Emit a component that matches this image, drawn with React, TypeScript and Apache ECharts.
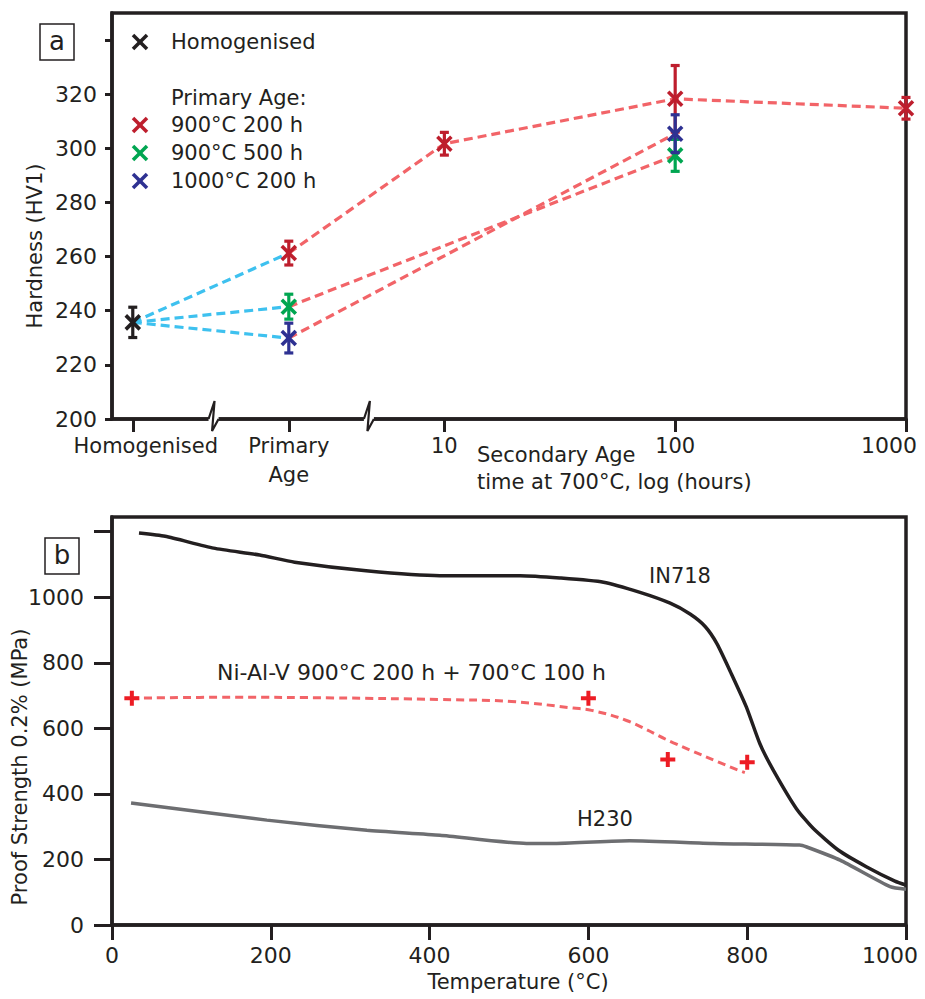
import React, { useEffect, useRef } from 'react';
import * as echarts from 'echarts';

const FONT = 'DejaVu Sans';
const INK = '#231F20';
const RED = '#BE1E2D';
const GREEN = '#00A651';
const BLUE = '#2E3192';
const DASH_RED = '#F26468';
const DASH_BLUE = '#3EC1EF';
const PLUS_RED = '#ED1C24';
const GRAY = '#6D6E71';

// ---------- Panel a : hardness ----------
const stageLabels = ['Homogenised', 'Primary\nAge'];
const stagePos = [-0.35, 0.326]; // axis positions of the two non-log stages
const breakPos = [0, 0.673]; // axis breaks
const secondaryHours = [10, 100, 1000];
const hvTicks = [200, 220, 240, 260, 280, 300, 320, 340];
const hvLabels = [200, 220, 240, 260, 280, 300, 320];

const homHV = [235.7];
const homErr = [5.6];
// 900°C 200 h : primary, 10 h, 100 h, 1000 h
const redHV = [261.3, 301.7, 318.3, 314.8];
const redErr = [4.4, 4.2, 12.3, 4.0];
// 900°C 500 h : primary, 100 h
const greenHV = [241.5, 297.4];
const greenErr = [4.6, 5.9];
// 1000°C 200 h : primary, 100 h
const blueHV = [229.9, 305.4];
const blueErr = [5.5, 7.0];

// ---------- Panel b : proof strength ----------
const tempTicks = [0, 200, 400, 600, 800, 1000];
const strengthTicks = [0, 200, 400, 600, 800, 1000, 1200];
const strengthLabels = [0, 200, 400, 600, 800, 1000];
const in718T = [34, 67, 128, 186, 230, 320, 413, 514, 564, 619, 665, 703, 728, 747, 762, 780, 799, 816, 833, 862, 883, 915, 950, 986, 1000];
const in718MPa = [1196, 1186, 1150, 1129, 1107, 1081, 1066, 1066, 1059, 1046, 1015, 982, 949, 911, 858, 767, 665, 553, 472, 355, 295, 228, 178, 134, 122];
const h230T = [24, 195, 321, 413, 522, 560, 652, 757, 866, 875, 917, 980, 1000];
const h230MPa = [372, 320, 289, 274, 249, 249, 257, 249, 244, 238, 198, 117, 109];
const nialvT = [25, 600, 700, 800];
const nialvMPa = [692, 692, 505, 497];
const nialvFitT = [24, 152, 279, 413, 503, 581, 604, 648, 707, 787, 797];
const nialvFitMPa = [692, 695, 693, 688, 682, 662, 655, 624, 556, 474, 465];

const zip = (a: number[], b: number[]) => a.map((v, i) => [v, b[i]]);

function markerSeries(name: string, color: string, xs: number[], ys: number[], es: number[], z: number) {
  return {
    type: 'custom',
    name,
    xAxisIndex: 0,
    yAxisIndex: 0,
    z,
    clip: false,
    encode: { x: 0, y: 1 },
    data: xs.map((x, i) => [x, ys[i], es[i]]),
    renderItem: (_p: any, api: any) => {
      const x = api.value(0);
      const y = api.value(1);
      const e = api.value(2);
      const c = api.coord([x, y]);
      const t = api.coord([x, y + e]);
      const b = api.coord([x, y - e]);
      const s = 7;
      const cap = 4.5;
      const st = { stroke: color, lineWidth: 3.2, fill: null };
      const sx = { stroke: color, lineWidth: 3.6, fill: null };
      return {
        type: 'group',
        children: [
          { type: 'line', shape: { x1: c[0], y1: t[1], x2: c[0], y2: b[1] }, style: st },
          { type: 'line', shape: { x1: c[0] - cap, y1: t[1], x2: c[0] + cap, y2: t[1] }, style: st },
          { type: 'line', shape: { x1: c[0] - cap, y1: b[1], x2: c[0] + cap, y2: b[1] }, style: st },
          { type: 'line', shape: { x1: c[0] - s, y1: c[1] - s, x2: c[0] + s, y2: c[1] + s }, style: sx },
          { type: 'line', shape: { x1: c[0] - s, y1: c[1] + s, x2: c[0] + s, y2: c[1] - s }, style: sx },
        ],
      };
    },
  };
}

function dashed(data: number[][], color: string, xi: number, width = 3.2, dash: number[] = [9, 5]) {
  return {
    type: 'line',
    xAxisIndex: xi,
    yAxisIndex: xi,
    data,
    symbol: 'none',
    showSymbol: false,
    silent: true,
    z: 2,
    lineStyle: { color, width, type: dash },
  };
}

function crossGraphic(x: number, y: number, color: string) {
  const s = 7;
  const style = { stroke: color, lineWidth: 3.6 };
  return [
    { type: 'line', shape: { x1: x - s, y1: y - s, x2: x + s, y2: y + s }, style },
    { type: 'line', shape: { x1: x - s, y1: y + s, x2: x + s, y2: y - s }, style },
  ];
}

function txt(text: string, x: number, y: number, opts: any = {}) {
  return {
    type: 'text',
    x,
    y,
    rotation: opts.rotation || 0,
    z: 50,
    style: {
      text,
      fill: INK,
      font: `${opts.size || 21}px "${FONT}"`,
      align: opts.align || 'left',
      verticalAlign: 'middle',
    },
  };
}

export default function App() {
  const ref = useRef<HTMLDivElement>(null);

  useEffect(() => {
    document.body.style.margin = '0';
    const el = ref.current!;
    const chart = echarts.init(el, null, { renderer: 'svg' });

    const redX = [stagePos[1], ...secondaryHours.map((h) => Math.log10(h))];
    const greenX = [stagePos[1], Math.log10(secondaryHours[1])];
    const blueX = [stagePos[1], Math.log10(secondaryHours[1])];

    const topXLabelValues = [stagePos[0], stagePos[1], ...secondaryHours.map((h) => Math.log10(h))];
    const topXLabelText = (v: number) => {
      if (Math.abs(v - stagePos[0]) < 1e-6) return '{hom|' + stageLabels[0] + '}';
      if (Math.abs(v - stagePos[1]) < 1e-6) return stageLabels[1];
      const h = Math.round(Math.pow(10, v));
      if (h === 1000) return '{k|' + h + '}';
      return String(h);
    };
    const plain = (v: number) => String(v);
    const tempLabel = (v: number) => (v === 1000 ? '{k|' + v + '}' : String(v));

    const axisLineStyle = { color: INK, width: 3.5 };
    const baseText = { fontFamily: FONT, fontSize: 21, color: INK };
    const tickText = { fontFamily: FONT, fontSize: 22, color: INK };
    const gridBase = {
      left: 112,
      right: 19,
      show: true,
      borderColor: INK,
      borderWidth: 3.5,
      backgroundColor: 'transparent',
      containLabel: false,
      outerBoundsMode: 'none',
    };

    const option: any = {
      animation: false,
      backgroundColor: '#fff',
      grid: [
        { ...gridBase, top: 13, bottom: 580 },
        { ...gridBase, top: 517, bottom: 74 },
      ],
      xAxis: [
        {
          type: 'value',
          gridIndex: 0,
          min: -0.44,
          max: 3,
          splitLine: { show: false },
          axisLine: { onZero: false, lineStyle: axisLineStyle },
          axisTick: { customValues: topXLabelValues, length: 13, lineStyle: { color: INK, width: 3 } },
          axisLabel: {
            ...baseText,
            customValues: topXLabelValues,
            margin: 12,
            lineHeight: 29,
            formatter: topXLabelText,
            rich: {
              hom: { ...baseText, lineHeight: 29, padding: [0, 0, 0, 26] },
              k: { ...tickText, lineHeight: 29, padding: [0, 34, 0, 0] },
            },
          },
        },
        {
          type: 'value',
          gridIndex: 1,
          min: 0,
          max: 1000,
          splitLine: { show: false },
          axisLine: { onZero: false, lineStyle: axisLineStyle },
          axisTick: { customValues: tempTicks, length: 15, lineStyle: { color: INK, width: 3 } },
          axisLabel: {
            ...tickText,
            customValues: tempTicks,
            margin: 19,
            formatter: tempLabel,
            rich: { k: { ...tickText, padding: [0, 32, 0, 0] } },
          },
        },
      ],
      yAxis: [
        {
          type: 'value',
          gridIndex: 0,
          min: 200,
          max: 350,
          splitLine: { show: false },
          axisLine: { show: true, onZero: false, lineStyle: axisLineStyle },
          axisTick: { show: true, customValues: hvTicks, length: 7, lineStyle: { color: INK, width: 3 } },
          axisLabel: { ...tickText, customValues: hvLabels, margin: 15, formatter: plain },
        },
        {
          type: 'value',
          gridIndex: 1,
          min: 0,
          max: 1245,
          splitLine: { show: false },
          axisLine: { show: true, onZero: false, lineStyle: axisLineStyle },
          axisTick: { show: true, customValues: strengthTicks, length: 18, lineStyle: { color: INK, width: 3 } },
          axisLabel: { ...tickText, customValues: strengthLabels, margin: 28, formatter: plain },
        },
      ],
      series: [
        // homogenised -> primary (blue dashes)
        dashed([[stagePos[0], homHV[0]], [stagePos[1], redHV[0]]], DASH_BLUE, 0),
        dashed([[stagePos[0], homHV[0]], [stagePos[1], greenHV[0]]], DASH_BLUE, 0),
        dashed([[stagePos[0], homHV[0]], [stagePos[1], blueHV[0]]], DASH_BLUE, 0),
        // primary -> secondary (red dashes)
        dashed(zip(redX, redHV), DASH_RED, 0),
        dashed(zip(greenX, greenHV), DASH_RED, 0),
        dashed(zip(blueX, blueHV), DASH_RED, 0),
        markerSeries('Homogenised', INK, [stagePos[0]], homHV, homErr, 10),
        markerSeries('900°C 200 h', RED, redX, redHV, redErr, 10),
        markerSeries('900°C 500 h', GREEN, greenX, greenHV, greenErr, 11),
        markerSeries('1000°C 200 h', BLUE, blueX, blueHV, blueErr, 12),
        // panel b
        {
          type: 'line',
          name: 'IN718',
          xAxisIndex: 1,
          yAxisIndex: 1,
          data: zip(in718T, in718MPa),
          symbol: 'none',
          smooth: 0.2,
          lineStyle: { color: INK, width: 3.5 },
          z: 3,
        },
        {
          type: 'line',
          name: 'H230',
          xAxisIndex: 1,
          yAxisIndex: 1,
          data: zip(h230T, h230MPa),
          symbol: 'none',
          smooth: 0.2,
          lineStyle: { color: GRAY, width: 3.5 },
          z: 3,
        },
        { ...dashed(zip(nialvFitT, nialvFitMPa), DASH_RED, 1, 3, [8, 5]), smooth: 0.4 },
        {
          type: 'scatter',
          name: 'Ni-Al-V',
          xAxisIndex: 1,
          yAxisIndex: 1,
          data: zip(nialvT, nialvMPa),
          symbol: 'path://M5.5,0h4v5.5h5.5v4h-5.5v5.5h-4v-5.5h-5.5v-4h5.5z',
          symbolSize: 15,
          itemStyle: { color: PLUS_RED, opacity: 1 },
          z: 5,
        },
      ],
    };

    chart.setOption(option);

    const ay = chart.convertToPixel({ yAxisIndex: 0 } as any, 200) as unknown as number;
    const breaks: any[] = [];
    breakPos.forEach((b) => {
      const bx = chart.convertToPixel({ xAxisIndex: 0 } as any, b) as unknown as number;
      breaks.push({
        type: 'rect',
        z: 40,
        shape: { x: bx - 5, y: ay - 3, width: 10, height: 6 },
        style: { fill: '#fff' },
      });
      breaks.push({
        type: 'polyline',
        z: 41,
        shape: { points: [[bx - 5, ay], [bx + 1, ay - 18], [bx - 1.5, ay + 12], [bx + 5, ay]] },
        style: { stroke: INK, lineWidth: 2.2, fill: null, lineJoin: 'miter' },
      });
    });

    const graphics: any[] = [
      // panel labels
      { type: 'rect', z: 50, shape: { x: 40, y: 24, width: 34, height: 36 }, style: { fill: '#fff', stroke: INK, lineWidth: 1.5 } },
      txt('a', 57, 41, { size: 26, align: 'center' }),
      { type: 'rect', z: 50, shape: { x: 45, y: 538, width: 34, height: 36 }, style: { fill: '#fff', stroke: INK, lineWidth: 1.5 } },
      txt('b', 62, 555, { size: 26, align: 'center' }),
      // legend
      ...crossGraphic(140, 42, INK),
      txt('Homogenised', 171, 42),
      txt('Primary Age:', 171, 98),
      ...crossGraphic(140, 125, RED),
      txt('900°C 200 h', 171, 125),
      ...crossGraphic(140, 153, GREEN),
      txt('900°C 500 h', 171, 153),
      ...crossGraphic(140, 181, BLUE),
      txt('1000°C 200 h', 171, 181),
      // axis titles
      txt('Hardness (HV1)', 35, 246, { align: 'center', rotation: Math.PI / 2 }),
      txt('Secondary Age', 477, 455),
      txt('time at 700°C, log (hours)', 477, 482),
      txt('Proof Strength 0.2% (MPa)', 20, 767, { align: 'center', rotation: Math.PI / 2 }),
      txt('Temperature (°C)', 518, 982, { align: 'center' }),
      // curve annotations
      txt('IN718', 680, 576, { align: 'center' }),
      txt('Ni-Al-V 900°C 200 h + 700°C 100 h', 217, 672, { size: 22 }),
      txt('H230', 605, 819, { align: 'center' }),
      ...breaks,
    ].map((g: any) => ({ z: 50, ...g }));

    chart.setOption({ graphic: { elements: graphics } });

    return () => chart.dispose();
  }, []);

  return <div ref={ref} style={{ width: 925, height: 999 }} />;
}
